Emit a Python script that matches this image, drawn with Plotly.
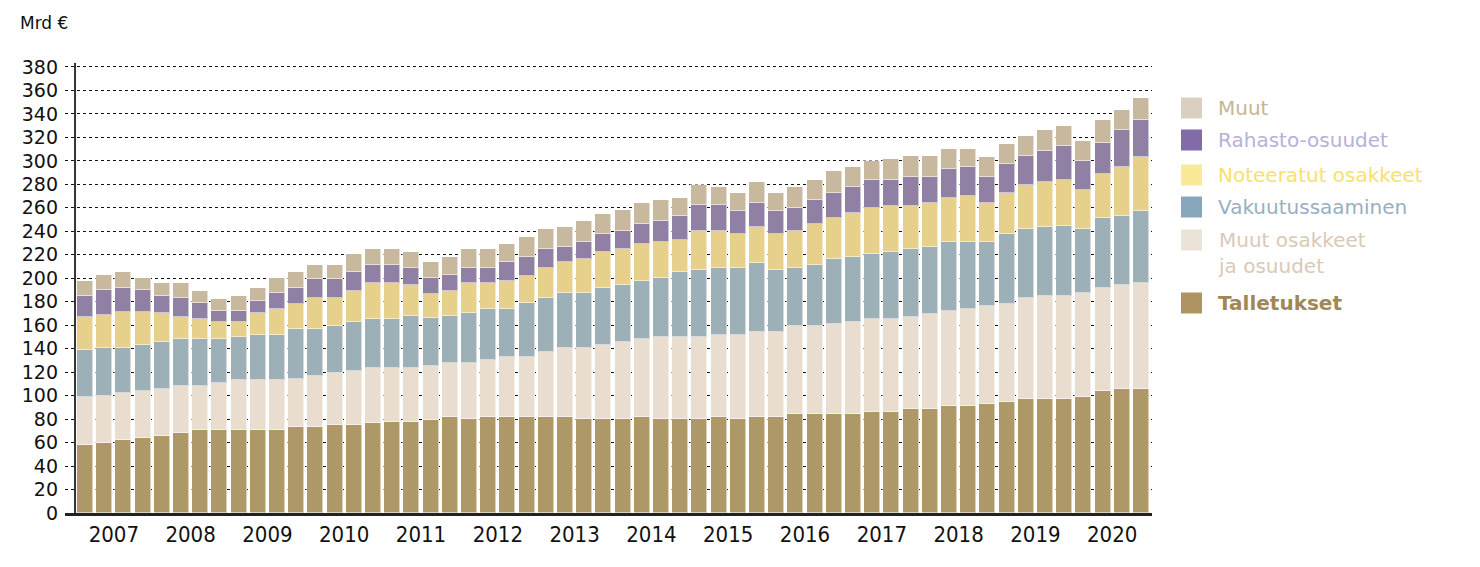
import plotly.graph_objects as go

years = [str(y) for y in range(2007, 2021)]
quarters = [f"{y}Q{q}" for y in range(2007, 2021) for q in range(1, 5)]

talletukset = [58, 60, 62, 64, 66, 68.5, 71, 70.5, 71, 71, 71, 73, 73, 75, 75, 77, 77.5, 77.5, 79.5, 82,
               80, 82, 82, 82, 82, 82, 80, 80, 80, 82, 80, 80, 80, 82, 80, 82, 82, 84, 84, 84,
               84, 86, 86, 88.5, 88.5, 91, 91, 93, 95, 97, 97, 97, 99, 104, 106, 106]
muut_osakkeet = [41, 39.5, 40, 40, 40, 39.5, 37, 40, 42, 42, 42, 41, 44, 44, 46, 46.5, 46, 46, 46, 46,
                 48, 48, 50.5, 50.5, 55, 59, 61, 63, 65.5, 66, 70, 70, 70, 70, 72, 72.5, 72.5, 75, 75, 77,
                 79, 79, 79, 78.5, 81, 81, 83, 83, 83, 86, 88, 88, 88.5, 88, 88, 90]
vakuutus = [40, 41.5, 39, 39, 40, 40, 40, 37.5, 37, 39, 39, 43, 40, 40, 42, 42, 41.5, 44.5, 40.5, 40,
            42, 44, 41.5, 46, 46, 46.5, 46.5, 49, 48.5, 50, 50, 55, 57, 57, 57, 58.5, 52.5, 50, 52, 55,
            55, 55.5, 57.5, 58, 57.5, 59, 57, 55, 60, 59, 59, 59.5, 54.5, 59, 59, 61.5]
noteeratut = [28, 28, 30.5, 28.5, 24, 19, 17, 15, 13, 18, 22, 21, 26, 24, 26.5, 30.5, 31, 26, 21, 21.5,
              26, 22, 24, 23.5, 26, 26.5, 28.5, 30.5, 31, 31, 31, 28, 33, 31, 28.5, 31, 30.5, 31, 35.5, 35,
              37.5, 39.5, 39, 36.5, 37, 37.5, 39.5, 33, 35, 37.5, 38, 39.5, 33, 37.5, 42, 46]
rahasto = [18, 21, 20.5, 18.5, 15, 16, 14, 9, 9, 10.5, 13.5, 14, 16, 16, 15.5, 15, 15, 15, 13.5, 13,
           13, 13, 16, 16, 16, 13, 15, 15.5, 15, 17.5, 18, 20, 22, 22, 20, 20, 20, 20, 20, 22,
           22, 24, 22.5, 25, 22.5, 24.5, 24.5, 22.5, 24, 24.5, 26.5, 29, 24.5, 26.5, 31, 31.5]
muut = [13, 12.5, 13, 10, 11, 13, 10, 10.5, 13, 11, 12.5, 13, 12, 12, 15.5, 14, 14, 13, 13, 15.5,
        16, 16, 15, 17.5, 17, 17, 18, 17, 18, 17.5, 18, 15.5, 17.5, 15.5, 15.5, 18, 15.5, 17.5, 17.5, 18,
        17.5, 15.5, 18, 17.5, 17.5, 17, 15, 17, 17, 17.5, 17.5, 17, 17.5, 19.5, 17.5, 19]

series_names = ["Talletukset", "Muut osakkeet", "Vakuutussaaminen", "Noteeratut osakkeet",
                "Rahasto-osuudet", "Muut"]
series_values = [talletukset, muut_osakkeet, vakuutus, noteeratut, rahasto, muut]
bar_colors = ["#ae9868", "#e9ddd0", "#9db0b7", "#e6d08b", "#9080a3", "#c8b99e"]

legend_labels = ["Muut", "Rahasto-osuudet", "Noteeratut osakkeet", "Vakuutussaaminen",
                 "Muut osakkeet<br>ja osuudet", "Talletukset"]
legend_square_colors = ["#dad0c0", "#816ba9", "#fbe99a", "#86a6bb", "#ece3d9", "#ae9460"]
legend_text_colors = ["#c7b594", "#b9b0d9", "#f9e16e", "#97b0c2", "#dbc9b5", "#a08856"]

FONT = "DejaVu Sans"
W, H = 1480, 567
L, R, T, B = 65, 328, 63, 54
x = list(range(len(quarters)))

fig = go.Figure()
for name, vals, col in zip(series_names, series_values, bar_colors):
    fig.add_trace(go.Bar(
        x=x, y=vals, name=name, marker_color=col,
        marker_line=dict(color="rgba(255,255,255,0.55)", width=1),
        width=0.84, showlegend=False,
        customdata=quarters, hovertemplate="%{customdata}: %{y}<extra>" + name + "</extra>"))

x_start = -(85 - L) / 19.2
x_end = 55 + (1152 - 1141) / 19.2

fig.update_layout(
    width=W, height=H, barmode="stack", bargap=0,
    margin=dict(l=L, r=R, t=T, b=B),
    paper_bgcolor="white", plot_bgcolor="white",
    font=dict(family=FONT, color="#111"),
    xaxis=dict(range=[x_start, x_end], tickvals=[1.5 + 4 * i for i in range(len(years))],
               ticktext=years, showgrid=False, zeroline=False, ticks="",
               showline=True, linecolor="#222", linewidth=3,
               tickfont=dict(size=22, family="DejaVu Sans Condensed", color="#111")),
    yaxis=dict(range=[0, 383.4], tickvals=list(range(0, 381, 20)), showgrid=True,
               gridcolor="#111", griddash="dot", gridwidth=1.2, zeroline=False,
               ticks="", tickfont=dict(size=19, family=FONT, color="#111"),
               ticklabelstandoff=6, showline=False),
)

# vertical axis line
fig.add_shape(type="line", xref="x", yref="paper", x0=-0.52, x1=-0.52, y0=0, y1=1.0,
              line=dict(color="#333", width=2))

pw = W - L - R
ph = H - T - B
def px_x(p):
    return (p - L) / pw
def px_y(p):
    return 1 - (p - T) / ph

fig.add_annotation(text="Mrd €", xref="paper", yref="paper",
                   x=px_x(18), y=px_y(23),
                   xanchor="left", yanchor="middle", showarrow=False,
                   font=dict(size=17, family=FONT, color="#111"))

legend_y = [108, 140, 175, 207, 240, 303]
for lab, sc, tc, yc in zip(legend_labels, legend_square_colors, legend_text_colors, legend_y):
    fig.add_shape(type="rect", xref="paper", yref="paper",
                  x0=px_x(1181), x1=px_x(1202), y0=px_y(yc + 10.5), y1=px_y(yc - 10.5),
                  fillcolor=sc, line=dict(width=0))
    multi = "<br>" in lab
    fig.add_annotation(text=lab, xref="paper", yref="paper", x=px_x(1216),
                       y=px_y(yc - 14) if multi else px_y(yc),
                       xanchor="left", yanchor="top" if multi else "middle",
                       showarrow=False, align="left",
                       font=dict(size=20, family=FONT, color=tc,
                                 weight="bold" if lab == "Talletukset" else "normal"))

fig.write_html("out.html", post_script="document.body.style.margin='0';",
               config={"displayModeBar": False})
